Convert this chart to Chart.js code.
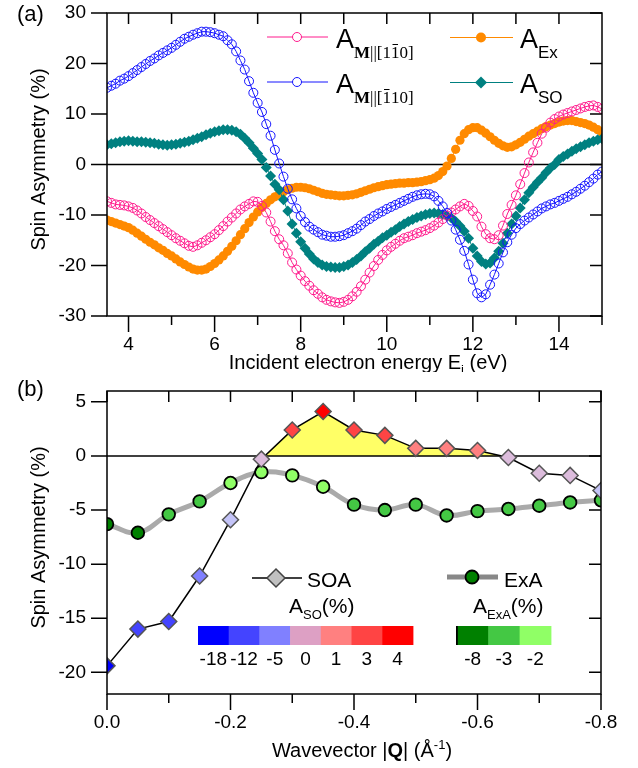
<!DOCTYPE html>
<html>
<head>
<meta charset="utf-8">
<script src="https://cdn.jsdelivr.net/npm/chart.js"></script>
<style>
  html, body { margin: 0; padding: 0; background: #fff; }
  #contenedor { position: relative; width: 638px; height: 768px; }
  canvas { position: absolute; left: 0; }
  #graficaA { top: 0; }
  #graficaB { top: 372px; }
</style>
</head>
<body>
<div id="contenedor">
  <canvas id="graficaA" width="638" height="372"></canvas>
  <canvas id="graficaB" width="638" height="396"></canvas>
</div>
<script>
// ---------- Datos panel (a) ----------
const energias = [
  3.5,3.6,3.7,3.8,3.9,4.0,4.1,4.2,4.3,4.4,
  4.5,4.6,4.7,4.8,4.9,5.0,5.1,5.2,5.3,5.4,
  5.5,5.6,5.7,5.8,5.9,6.0,6.1,6.2,6.3,6.4,
  6.5,6.6,6.7,6.8,6.9,7.0,7.1,7.2,7.3,7.4,
  7.5,7.6,7.7,7.8,7.9,8.0,8.1,8.2,8.3,8.4,
  8.5,8.6,8.7,8.8,8.9,9.0,9.1,9.2,9.3,9.4,
  9.5,9.6,9.7,9.8,9.9,10.0,10.1,10.2,10.3,10.4,
  10.5,10.6,10.7,10.8,10.9,11.0,11.1,11.2,11.3,11.4,
  11.5,11.6,11.7,11.8,11.9,12.0,12.1,12.2,12.3,12.4,
  12.5,12.6,12.7,12.8,12.9,13.0,13.1,13.2,13.3,13.4,
  13.5,13.6,13.7,13.8,13.9,14.0,14.1,14.2,14.3,14.4,
  14.5,14.6,14.7,14.8,14.9,15.0
];

// A_M||[1-10] (rosa)
const aM1m10 = [
  -7.3,-7.6,-7.9,-8.0,-8.1,-8.3,-8.6,-9.1,-9.7,-10.4,
  -11.0,-11.6,-12.2,-12.8,-13.4,-14.0,-14.6,-15.1,-15.6,-16.1,
  -16.3,-16.0,-15.5,-15.0,-14.4,-13.8,-13.0,-12.2,-11.3,-10.5,
  -9.7,-8.9,-8.3,-7.8,-7.3,-7.4,-8.2,-9.5,-11.3,-13.2,
  -14.8,-16.0,-17.6,-19.4,-20.8,-22.0,-23.1,-24.0,-24.9,-25.6,
  -26.3,-26.8,-27.1,-27.3,-27.4,-27.2,-26.8,-26.1,-25.2,-24.1,
  -22.8,-21.4,-20.1,-18.9,-17.9,-17.0,-16.3,-15.7,-15.1,-14.6,
  -14.3,-14.0,-13.6,-13.3,-13.0,-12.6,-12.1,-11.5,-10.8,-10.1,
  -9.5,-8.9,-8.3,-7.8,-8.2,-9.2,-10.3,-12.3,-13.8,-14.6,
  -14.8,-14.0,-12.1,-9.8,-8.0,-6.1,-3.9,-1.7,0.4,2.4,
  4.3,6.1,7.3,8.3,9.0,9.5,9.9,10.2,10.5,10.8,
  11.1,11.4,11.6,11.7,11.4,11.0
];

// A_M||[-110] (azul)
const aMm110 = [
  15.2,15.6,16.0,16.6,17.0,17.5,18.1,18.7,19.3,19.9,
  20.5,21.0,21.6,22.1,22.6,23.1,23.7,24.3,24.9,25.3,
  25.7,26.0,26.3,26.3,26.2,26.0,25.7,25.4,24.6,23.8,
  22.4,20.6,18.8,16.5,14.2,12.2,10.4,8.0,5.7,2.9,
  0.2,-2.4,-4.8,-6.9,-8.7,-10.2,-11.4,-12.3,-12.9,-13.4,
  -13.9,-14.1,-14.3,-14.3,-14.2,-14.0,-13.6,-13.2,-12.7,-12.0,
  -11.3,-10.8,-10.2,-9.7,-9.3,-8.8,-8.4,-8.0,-7.6,-7.2,
  -6.8,-6.4,-6.1,-5.9,-5.8,-5.9,-6.3,-7.2,-8.3,-9.6,
  -11.1,-12.9,-14.9,-17.1,-19.8,-22.8,-25.5,-26.3,-25.7,-23.8,
  -21.8,-19.6,-17.4,-15.4,-13.9,-12.6,-11.8,-11.1,-10.5,-9.9,
  -9.3,-8.7,-8.3,-7.9,-7.6,-7.2,-6.8,-6.4,-5.9,-5.4,
  -4.8,-4.2,-3.5,-2.8,-2.0,-1.4
];

// A_Ex (naranja)
const aEx = [
  -11.0,-11.3,-11.6,-11.9,-12.2,-12.5,-13.0,-13.6,-14.2,-14.8,
  -15.4,-15.9,-16.5,-17.0,-17.6,-18.1,-18.7,-19.3,-19.8,-20.3,
  -20.7,-20.9,-20.9,-20.7,-20.2,-19.6,-18.9,-18.1,-17.2,-16.2,
  -15.1,-13.9,-12.7,-11.5,-10.4,-9.4,-8.5,-7.7,-7.0,-6.4,
  -5.9,-5.4,-5.0,-4.7,-4.5,-4.5,-4.6,-4.8,-5.1,-5.4,
  -5.7,-5.9,-6.0,-6.1,-6.2,-6.2,-6.1,-6.0,-5.8,-5.5,
  -5.2,-4.9,-4.6,-4.4,-4.2,-4.0,-3.9,-3.8,-3.7,-3.7,
  -3.6,-3.6,-3.5,-3.4,-3.2,-3.0,-2.7,-2.2,-1.4,-0.3,
  1.2,3.0,4.8,6.1,6.9,7.3,7.3,6.8,6.2,5.5,
  4.8,4.2,3.7,3.4,3.5,3.9,4.4,5.0,5.6,6.1,
  6.6,7.1,7.5,7.8,8.1,8.4,8.6,8.7,8.7,8.5,
  8.3,8.1,7.8,7.4,6.9,6.4
];

// A_SO (verde azulado)
const aSO = [
  3.9,4.1,4.3,4.5,4.6,4.7,4.6,4.5,4.5,4.4,
  4.3,4.2,4.0,3.9,3.8,3.9,4.0,4.2,4.4,4.6,
  4.9,5.2,5.5,5.9,6.2,6.5,6.7,6.9,6.9,6.8,
  6.5,6.0,5.2,4.3,3.2,2.2,1.0,-0.6,-2.3,-3.9,
  -5.0,-7.0,-9.2,-11.8,-13.6,-15.3,-16.6,-17.7,-18.7,-19.4,
  -19.9,-20.2,-20.3,-20.4,-20.4,-20.2,-19.9,-19.4,-18.8,-18.1,
  -17.3,-16.6,-15.8,-15.2,-14.5,-14.0,-13.4,-12.9,-12.3,-11.8,
  -11.3,-10.9,-10.5,-10.2,-9.9,-9.7,-9.6,-9.7,-9.9,-10.2,
  -10.6,-11.3,-12.2,-13.2,-14.6,-16.6,-18.1,-19.2,-19.7,-19.5,
  -18.5,-17.2,-15.6,-13.6,-11.8,-10.2,-8.6,-7.0,-5.6,-4.5,
  -3.5,-2.6,-1.6,-0.7,0.0,1.0,1.6,2.1,2.6,3.1,
  3.5,3.9,4.3,4.6,4.9,5.1
];

const ticksY_A = [-30, -20, -10, 0, 10, 20, 30];
const ticksX_A = [4, 6, 8, 10, 12, 14];
const ticksX_A_menores = [5, 7, 9, 11, 13, 15];
const ticksX_A_sup = [4, 5, 6, 7, 8, 9, 10, 11, 12, 13, 14];

// ---------- Datos panel (b) ----------
const vectorOnda = [0, -0.05, -0.1, -0.15, -0.2, -0.25, -0.3, -0.35, -0.4, -0.45, -0.5, -0.55, -0.6, -0.65, -0.7, -0.75, -0.8];
const soa = [-19.4, -16.0, -15.3, -11.1, -5.9, -0.3, 2.4, 4.1, 2.4, 1.9, 0.7, 0.7, 0.5, -0.15, -1.6, -1.8, -3.2];
const exa = [-6.3, -7.1, -5.4, -4.2, -2.5, -1.5, -1.8, -2.85, -4.5, -5.0, -4.5, -5.5, -5.1, -4.9, -4.6, -4.3, -4.1];

const ticksY_B = [-20, -15, -10, -5, 0, 5];
const ticksX_B = [0, -0.2, -0.4, -0.6, -0.8];
const ticksX_B_menores = [-0.1, -0.3, -0.5, -0.7];
const ticksX_B_sup = [0, -0.1, -0.2, -0.3, -0.4, -0.5, -0.6, -0.7, -0.8];

const nivelesSO = ['-18', '-12', '-5', '0', '1', '3', '4'];
const coloresSO = ['#0000ff', '#4444ff', '#8080ff', '#dda0c4', '#ff8080', '#ff4444', '#ff0000'];
const nivelesExA = ['-8', '-3', '-2'];
const coloresExA = ['#008000', '#44c844', '#90ff66'];

// ---------- Estilos ----------
const FUENTE = '"Liberation Sans", Arial, sans-serif';
const SERIF = '"Liberation Serif", "DejaVu Serif", serif';
const ROSA = '#ff1a8c';
const AZUL = '#1414ff';
const NARANJA = '#ff8a00';
const TEAL = '#008080';

// color del rombo segun el valor de A_SO
const colorSO = (v) => {
    if (v === undefined) return '#c0c0c0';
    if (v < -17) return '#0000ff';
    if (v < -13) return '#4444ff';
    if (v < -8) return '#8080ff';
    if (v < -2.5) return '#c4c4f8';
    if (v < 0.3) return '#dcbcdc';
    if (v < 1.5) return '#ff8080';
    if (v < 3.5) return '#ff4444';
    return '#ff0000';
};

// color del circulo segun el valor de ExA
const colorExA = (v) => {
    if (v === undefined) return '#008000';
    if (v < -6) return '#008000';
    if (v < -3) return '#44c844';
    return '#90ff66';
};

// Texto con subindices / superindices
const textoCompuesto = (ctx, x, y, partes, alinear) => {
    let ancho = 0;
    partes.forEach((p) => { ctx.font = p[1]; ancho += ctx.measureText(p[0]).width; });
    let cx = alinear === 'center' ? x - ancho / 2 : x;
    ctx.textAlign = 'left';
    partes.forEach((p) => {
        ctx.font = p[1];
        const w = ctx.measureText(p[0]).width;
        ctx.fillText(p[0], cx, y + (p[2] || 0));
        if (p[3]) {
            ctx.save();
            ctx.lineWidth = 1;
            ctx.strokeStyle = '#000';
            ctx.beginPath();
            ctx.moveTo(cx + 1.5, y + p[2] - 13.5);
            ctx.lineTo(cx + w - 1.5, y + p[2] - 13.5);
            ctx.stroke();
            ctx.restore();
        }
        cx += w;
    });
};

// Linea cero, marco y marcas de los ejes
const marcoEjes = {
    id: 'marcoEjes',
    beforeDatasetsDraw(chart) {
        const { ctx, chartArea: a, scales: { y } } = chart;
        const y0 = y.getPixelForValue(0);
        ctx.save();
        ctx.strokeStyle = '#000';
        ctx.lineWidth = 1.5;
        ctx.beginPath();
        ctx.moveTo(a.left, y0);
        ctx.lineTo(a.right, y0);
        ctx.stroke();
        ctx.restore();
    },
    afterDatasetsDraw(chart, args, opts) {
        const { ctx, chartArea: a, scales: { x, y } } = chart;
        ctx.save();
        ctx.strokeStyle = '#000';
        ctx.lineWidth = 1.5;
        ctx.strokeRect(a.left, a.top, a.right - a.left, a.bottom - a.top);
        ctx.beginPath();
        opts.yTicks.forEach((v) => {
            const py = y.getPixelForValue(v);
            ctx.moveTo(a.left - 16, py); ctx.lineTo(a.left, py);
            ctx.moveTo(a.right - 12, py); ctx.lineTo(a.right, py);
        });
        opts.xMayores.forEach((v) => {
            const px = x.getPixelForValue(v);
            ctx.moveTo(px, a.bottom); ctx.lineTo(px, a.bottom + 16);
        });
        opts.xMenores.forEach((v) => {
            const px = x.getPixelForValue(v);
            ctx.moveTo(px, a.bottom); ctx.lineTo(px, a.bottom + 9);
        });
        opts.xSup.forEach((v) => {
            const px = x.getPixelForValue(v);
            ctx.moveTo(px, a.top); ctx.lineTo(px, a.top + 11);
        });
        ctx.stroke();
        ctx.restore();
    }
};

const tituloY = (ctx, a) => {
    ctx.save();
    ctx.translate(45, (a.top + a.bottom) / 2 - 5);
    ctx.rotate(-Math.PI / 2);
    ctx.textAlign = 'center';
    ctx.textBaseline = 'alphabetic';
    ctx.font = '20px ' + FUENTE;
    ctx.fillText('Spin Asymmetry (%)', 0, 0);
    ctx.restore();
};

// Textos y leyenda del panel (a)
const decoracionA = {
    id: 'decoracionA',
    afterDraw(chart) {
        const { ctx, chartArea: a } = chart;
        ctx.save();
        ctx.fillStyle = '#000';
        ctx.textBaseline = 'middle';
        ctx.font = '22px ' + FUENTE;
        ctx.fillText('(a)', 17, 15);
        tituloY(ctx, a);
        ctx.textBaseline = 'alphabetic';
        textoCompuesto(ctx, 368, 369, [
            ['Incident electron energy E', '20px ' + FUENTE, 0],
            ['i', '13px ' + FUENTE, 5],
            [' (eV)', '20px ' + FUENTE, 0]
        ], 'center');

        // muestras de la leyenda
        const muestra = (x1, x2, y, color) => {
            ctx.strokeStyle = color; ctx.lineWidth = 1;
            ctx.beginPath(); ctx.moveTo(x1, y); ctx.lineTo(x2, y); ctx.stroke();
        };
        muestra(267, 328, 37, ROSA);
        ctx.fillStyle = '#fff';
        ctx.beginPath(); ctx.arc(297, 37, 4.5, 0, Math.PI * 2); ctx.fill(); ctx.stroke();
        muestra(267, 328, 82, AZUL);
        ctx.beginPath(); ctx.arc(297, 82, 4.5, 0, Math.PI * 2); ctx.fill(); ctx.stroke();
        muestra(450, 513, 37.5, NARANJA);
        ctx.fillStyle = NARANJA;
        ctx.beginPath(); ctx.arc(481, 37.5, 5, 0, Math.PI * 2); ctx.fill();
        muestra(450, 513, 82.5, TEAL);
        ctx.fillStyle = TEAL;
        ctx.beginPath();
        ctx.moveTo(481, 76.5); ctx.lineTo(487, 82.5); ctx.lineTo(481, 88.5); ctx.lineTo(475, 82.5);
        ctx.closePath(); ctx.fill();

        ctx.fillStyle = '#000';
        const grande = '27px ' + FUENTE;
        const sub = '17px ' + SERIF;
        const subB = 'bold 17px ' + SERIF;
        textoCompuesto(ctx, 336, 48, [
            ['A', grande, 0], ['M', subB, 10], ['||[1', sub, 10], ['1', sub, 10, true], ['0]', sub, 10]
        ], 'left');
        textoCompuesto(ctx, 336, 93, [
            ['A', grande, 0], ['M', subB, 10], ['||[', sub, 10], ['1', sub, 10, true], ['10]', sub, 10]
        ], 'left');
        textoCompuesto(ctx, 520, 48, [['A', grande, 0], ['Ex', '17px ' + FUENTE, 10]], 'left');
        textoCompuesto(ctx, 520, 93, [['A', grande, 0], ['SO', '17px ' + FUENTE, 10]], 'left');
        ctx.restore();
    }
};

// Textos, leyenda y barras de color del panel (b)
const decoracionB = {
    id: 'decoracionB',
    afterDraw(chart) {
        const { ctx, chartArea: a } = chart;
        ctx.save();
        ctx.fillStyle = '#000';
        ctx.textBaseline = 'middle';
        ctx.font = '22px ' + FUENTE;
        ctx.fillText('(b)', 17, 18);
        tituloY(ctx, a);
        ctx.textBaseline = 'alphabetic';
        textoCompuesto(ctx, 362, 385, [
            ['Wavevector |', '20px ' + FUENTE, 0],
            ['Q', 'bold 20px ' + FUENTE, 0],
            ['| (Å', '20px ' + FUENTE, 0],
            ['-1', '13px ' + FUENTE, -8],
            [')', '20px ' + FUENTE, 0]
        ], 'center');

        // leyenda SOA
        ctx.strokeStyle = '#000'; ctx.lineWidth = 1.5;
        ctx.beginPath(); ctx.moveTo(252, 206); ctx.lineTo(302, 206); ctx.stroke();
        ctx.fillStyle = '#c0c0c0'; ctx.strokeStyle = '#444';
        ctx.beginPath();
        ctx.moveTo(276, 197); ctx.lineTo(285, 206); ctx.lineTo(276, 215); ctx.lineTo(267, 206);
        ctx.closePath(); ctx.fill(); ctx.stroke();
        // leyenda ExA
        ctx.strokeStyle = '#888'; ctx.lineWidth = 5;
        ctx.beginPath(); ctx.moveTo(447, 205); ctx.lineTo(498, 205); ctx.stroke();
        ctx.fillStyle = '#008000'; ctx.strokeStyle = '#000'; ctx.lineWidth = 1.8;
        ctx.beginPath(); ctx.arc(472, 205, 6.5, 0, Math.PI * 2); ctx.fill(); ctx.stroke();

        ctx.fillStyle = '#000';
        ctx.font = '21px ' + FUENTE;
        ctx.fillText('SOA', 307, 214.5);
        ctx.fillText('ExA', 504, 214.5);
        textoCompuesto(ctx, 289, 241, [
            ['A', '21px ' + FUENTE, 0], ['SO', '13px ' + FUENTE, 6], ['(%)', '21px ' + FUENTE, 0]
        ], 'left');
        textoCompuesto(ctx, 473, 241, [
            ['A', '21px ' + FUENTE, 0], ['ExA', '13px ' + FUENTE, 6], ['(%)', '21px ' + FUENTE, 0]
        ], 'left');

        // barras de color
        const barra = (x0, ancho, colores, niveles) => {
            colores.forEach((c, i) => {
                ctx.fillStyle = c;
                ctx.fillRect(x0 + i * ancho, 254, ancho + 0.5, 19);
            });
            ctx.fillStyle = '#000';
            ctx.font = '19px ' + FUENTE;
            ctx.textAlign = 'center';
            ctx.textBaseline = 'middle';
            niveles.forEach((t, i) => ctx.fillText(t, x0 + (i + 0.5) * ancho, 287.5));
            ctx.textAlign = 'left';
            ctx.textBaseline = 'alphabetic';
        };
        barra(198, 30.7, coloresSO, nivelesSO);
        barra(457, 31.3, coloresExA, nivelesExA);
        ctx.fillStyle = '#000';
        ctx.fillRect(456, 254, 1.8, 19);
        ctx.restore();
    }
};

const fuenteTicks = { family: FUENTE, size: 19 };

// quitar el relleno automatico que Chart.js deja para las etiquetas
const sinRellenoX = (alto) => (s) => { s.height = alto; s.paddingLeft = 0; s.paddingRight = 0; };
const sinRellenoY = (s) => { s.width = 107; s.paddingTop = 0; s.paddingBottom = 0; };

// ---------- Grafica (a) ----------
const puntos = (xs, ys) => xs.map((x, i) => ({ x: x, y: ys[i] }));

new Chart(document.getElementById('graficaA'), {
    type: 'line',
    data: {
        datasets: [
            {
                label: 'A_M||[-110]', data: puntos(energias, aMm110), order: 1, clip: 0,
                borderColor: AZUL, borderWidth: 1, pointStyle: 'circle', pointRadius: 4.5,
                pointBorderWidth: 1, pointBorderColor: AZUL, pointBackgroundColor: 'rgba(0,0,0,0)'
            },
            {
                label: 'A_M||[1-10]', data: puntos(energias, aM1m10), order: 2, clip: 0,
                borderColor: ROSA, borderWidth: 1, pointStyle: 'circle', pointRadius: 4.5,
                pointBorderWidth: 1, pointBorderColor: ROSA, pointBackgroundColor: 'rgba(0,0,0,0)'
            },
            {
                label: 'A_SO', data: puntos(energias, aSO), order: 3, clip: 0,
                borderColor: TEAL, borderWidth: 1, pointStyle: 'rectRot', pointRadius: 5.5,
                pointBorderWidth: 0, pointBackgroundColor: TEAL
            },
            {
                label: 'A_Ex', data: puntos(energias, aEx), order: 4, clip: 0,
                borderColor: NARANJA, borderWidth: 1, pointStyle: 'circle', pointRadius: 4.6,
                pointBorderWidth: 0, pointBackgroundColor: NARANJA
            }
        ]
    },
    options: {
        responsive: false,
        animation: false,
        layout: { padding: { left: 0, right: 36, top: 13, bottom: 0 } },
        plugins: {
            legend: { display: false },
            tooltip: { enabled: false },
            marcoEjes: { yTicks: ticksY_A, xMayores: ticksX_A, xMenores: ticksX_A_menores, xSup: ticksX_A_sup }
        },
        scales: {
            x: {
                type: 'linear', min: 3.5, max: 15,
                grid: { display: false, drawTicks: false },
                border: { display: false },
                ticks: { stepSize: 2, includeBounds: false, padding: 17, color: '#000', font: fuenteTicks, maxRotation: 0, autoSkip: false },
                afterFit: sinRellenoX(56)
            },
            y: {
                min: -30, max: 30,
                grid: { display: false, drawTicks: false },
                border: { display: false },
                ticks: { stepSize: 10, padding: 21, color: '#000', font: fuenteTicks },
                afterFit: sinRellenoY
            }
        }
    },
    plugins: [marcoEjes, decoracionA]
});

// ---------- Grafica (b) ----------
new Chart(document.getElementById('graficaB'), {
    type: 'line',
    data: {
        datasets: [
            {
                label: 'SOA', data: puntos(vectorOnda, soa), order: 1, clip: 0,
                borderColor: '#000', borderWidth: 1.5, tension: 0,
                fill: { target: { value: 0 }, above: '#ffff66', below: 'rgba(0,0,0,0)' },
                pointStyle: 'rectRot', pointRadius: 8, pointBorderWidth: 1.5, pointBorderColor: '#555',
                pointBackgroundColor: (c) => colorSO(c.raw ? c.raw.y : undefined)
            },
            {
                label: 'ExA', data: puntos(vectorOnda, exa), order: 2, clip: 0,
                borderColor: '#aaaaaa', borderWidth: 5, tension: 0.4, fill: false,
                pointStyle: 'circle', pointRadius: 6.3, pointBorderWidth: 1.8, pointBorderColor: '#000',
                pointBackgroundColor: (c) => colorExA(c.raw ? c.raw.y : undefined)
            }
        ]
    },
    options: {
        responsive: false,
        animation: false,
        layout: { padding: { left: 0, right: 37, top: 19, bottom: 0 } },
        plugins: {
            legend: { display: false },
            tooltip: { enabled: false },
            filler: { drawTime: 'beforeDatasetsDraw' },
            marcoEjes: { yTicks: ticksY_B, xMayores: ticksX_B, xMenores: ticksX_B_menores, xSup: ticksX_B_sup }
        },
        scales: {
            x: {
                type: 'linear', min: -0.8, max: 0, reverse: true,
                grid: { display: false, drawTicks: false },
                border: { display: false },
                ticks: {
                    stepSize: 0.2, padding: 17, color: '#000', font: fuenteTicks, maxRotation: 0, autoSkip: false,
                    callback: (v) => (Math.abs(v) < 1e-9 ? '0.0' : Number(v).toFixed(1))
                },
                afterFit: sinRellenoX(74)
            },
            y: {
                min: -22, max: 6,
                grid: { display: false, drawTicks: false },
                border: { display: false },
                ticks: { stepSize: 5, includeBounds: false, padding: 21, color: '#000', font: fuenteTicks },
                afterFit: sinRellenoY
            }
        }
    },
    plugins: [marcoEjes, decoracionB]
});
</script>
</body>
</html>
